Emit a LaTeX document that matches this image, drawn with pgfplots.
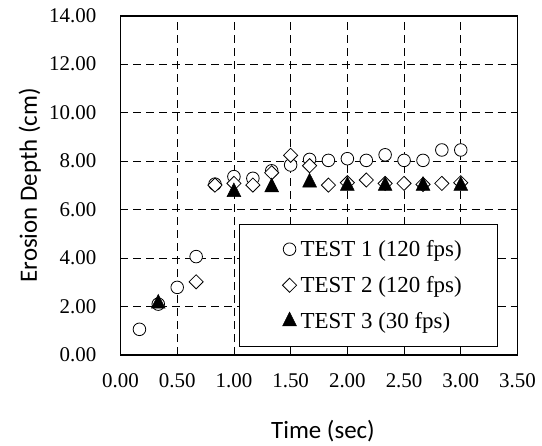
\documentclass[border=0pt]{standalone}
\usepackage{pgfplots}
\pgfplotsset{compat=1.18}
\usepackage{fontspec}
\setmainfont{Liberation Serif}
\newfontfamily\calibri{Carlito}
\pgfplotsset{mylegend/.style={legend image code/.code={\path (-15.5bp,0bp) (6.5bp,0bp); \draw[##1] plot coordinates {(0bp,0bp)};}}}
\begin{document}
\begin{tikzpicture}
\path[use as bounding box] (-120.5bp,-91bp) rectangle (421.5bp,355bp);
\begin{axis}[
  at={(0,0)}, anchor=south west,
  scale only axis, width=397bp, height=339.3bp,
  xmin=0, xmax=3.5, ymin=0, ymax=14,
  xtick={0,0.5,...,3.5}, ytick={0,2,...,14},
  /pgf/number format/assume math mode=true,
  xticklabel={\pgfmathprintnumber[fixed,fixed zerofill,precision=2]{\tick}},
  yticklabel={\pgfmathprintnumber[fixed,fixed zerofill,precision=2]{\tick}},
  tick label style={font=\fontsize{21}{24}\selectfont},
  xticklabel style={anchor=base, yshift=-32bp},
  yticklabel style={anchor=east, inner sep=0pt, xshift=-24bp},
  tick pos=left, tick align=inside, major tick length=6bp,
  tick style={black, line width=0.8bp},
  axis line style={black, line width=1.8bp},
  grid=major,
  major grid style={black, line width=0.8bp, dash pattern=on 8bp off 5bp},
  xlabel={Time (sec)}, ylabel={Erosion Depth (cm)},
  label style={font=\calibri\fontsize{25}{30}\selectfont},
  xlabel style={at={(axis description cs:0.5,0)}, anchor=base, yshift=-83bp, xshift=4bp},
  ylabel style={at={(axis description cs:0,0.5)}, anchor=base, yshift=83.5bp},
  legend style={at={(0.951,0.0236)}, anchor=south east, draw=black, line width=0.8bp,
    font=\fontsize{23}{26}\selectfont, inner xsep=34bp, inner ysep=14.5bp,
    row sep=14.4bp, column sep=2bp, nodes={inner sep=2bp}},
  legend cell align=left,
]
\addplot[only marks, mylegend, mark=*, mark size=6.3bp, mark options={draw=black, fill=white, line width=0.8bp}] coordinates {
(0.167,1.06) (0.333,2.10) (0.5,2.79) (0.667,4.06) (0.833,7.05) (1.0,7.36) (1.167,7.29)
(1.333,7.60) (1.5,7.84) (1.667,8.07) (1.833,8.03) (2.0,8.10) (2.167,8.03) (2.333,8.26)
(2.5,8.03) (2.667,8.03) (2.833,8.46) (3.0,8.46)};
\addlegendentry{TEST 1 (120 fps)}
\addplot[only marks, mylegend, mark=square*, mark size=5bp, mark options={rotate=45, draw=black, fill=white, line width=0.8bp}] coordinates {
(0.667,3.02) (0.833,7.01) (1.0,7.08) (1.167,7.01) (1.333,7.52) (1.5,8.24) (1.667,7.81)
(1.833,7.01) (2.0,7.11) (2.167,7.22) (2.333,7.08) (2.5,7.08) (2.667,7.04) (2.833,7.08) (3.0,7.11)};
\addlegendentry{TEST 2 (120 fps)}
\addplot[only marks, mylegend, mark=triangle*, mark size=8bp, mark options={yscale=1.15, draw=black, fill=black, line width=0.5bp}] coordinates {
(0.333,2.12) (1.0,6.72) (1.333,6.92) (1.667,7.12) (2.0,6.98) (2.333,6.98) (2.667,6.98) (3.0,6.98)};
\addlegendentry{TEST 3 (30 fps)}
\end{axis}
\end{tikzpicture}
\end{document}
